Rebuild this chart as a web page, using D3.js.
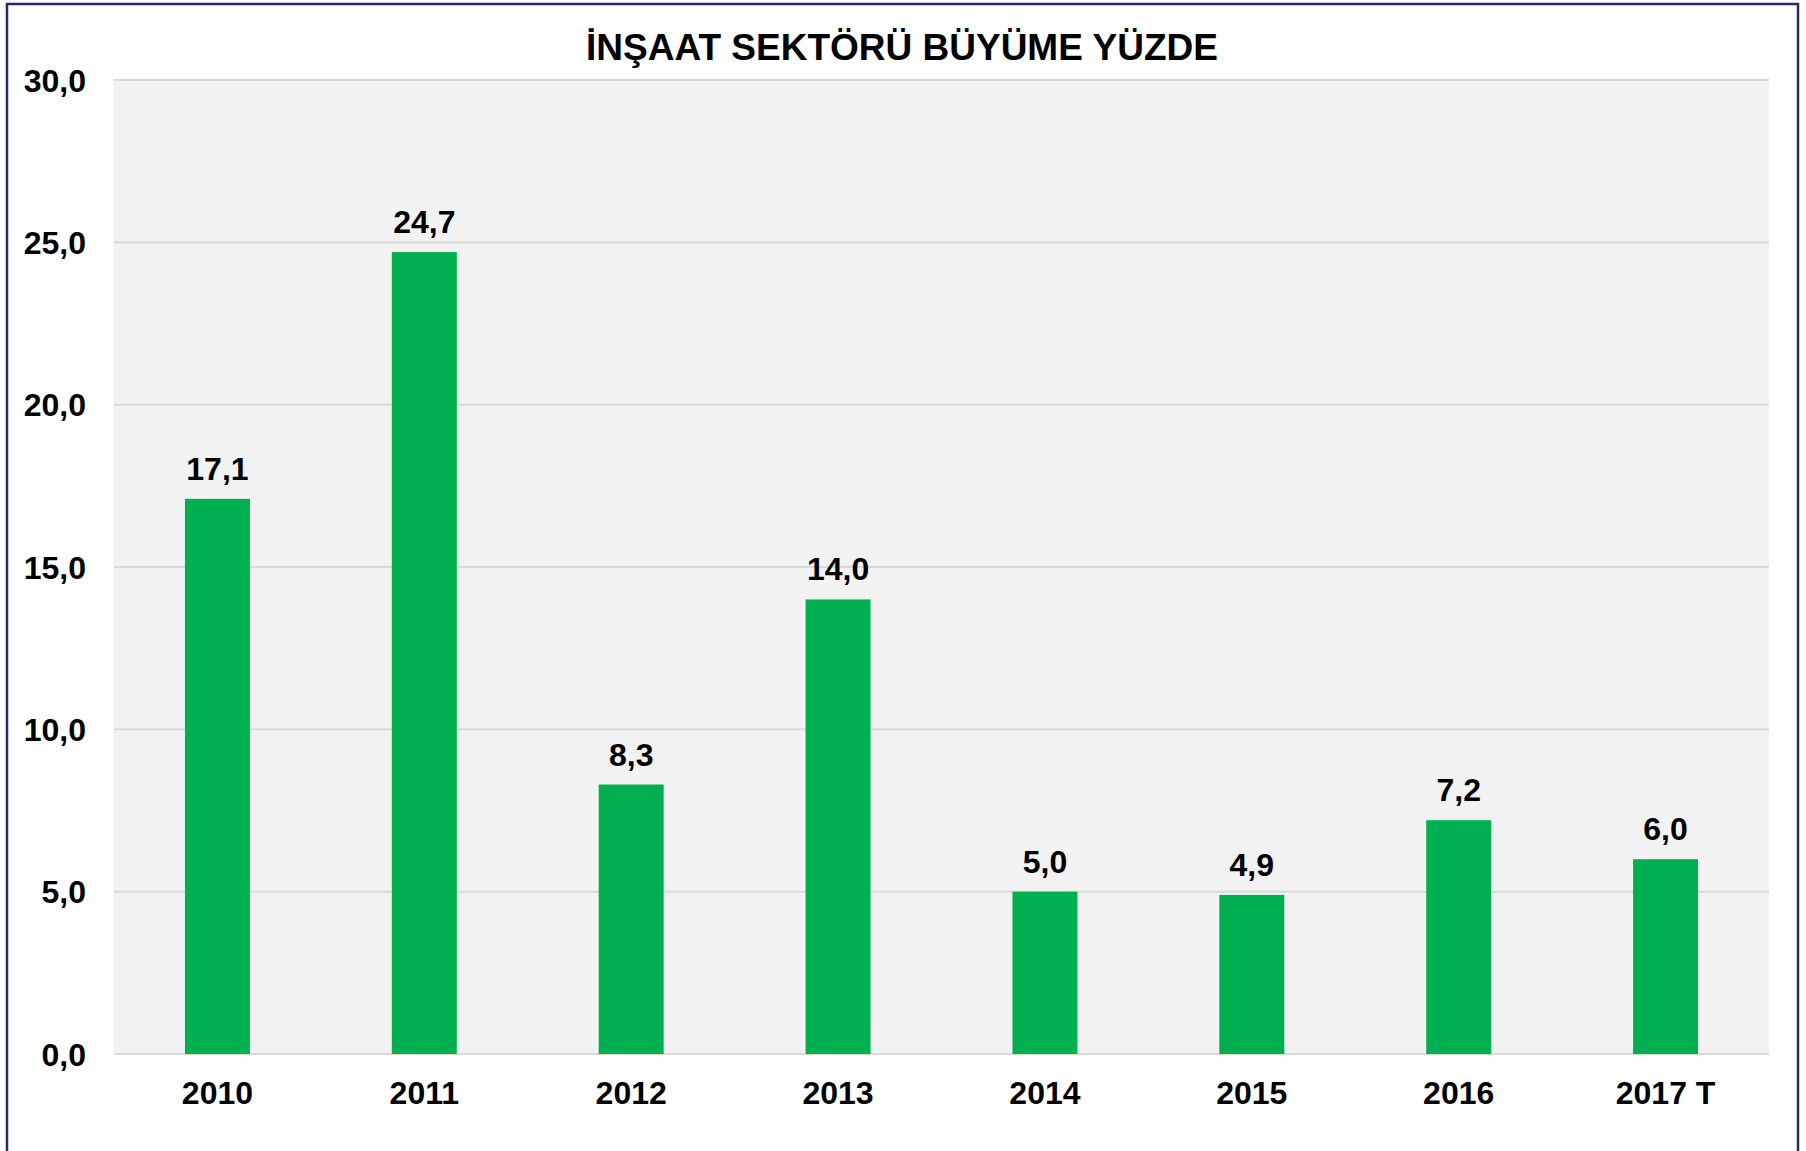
<!DOCTYPE html>
<meta charset="utf-8" />
<script src="https://d3js.org/d3.v7.min.js"></script>
<style>
  body { margin: 0; background: #fff; }
  svg text { font-family: "Liberation Sans", Arial, sans-serif; font-weight: bold; fill: #000; }
</style>
<div id="chart"></div>
<script>
  // data
  const years = ["2010", "2011", "2012", "2013", "2014", "2015", "2016", "2017 T"];
  const growth = [17.1, 24.7, 8.3, 14.0, 5.0, 4.9, 7.2, 6.0];
  const yTicks = [0, 5, 10, 15, 20, 25, 30];

  const W = 1806, H = 1151;
  const margin = { top: 80, right: 37, bottom: 97, left: 114 },
    width = W - margin.left - margin.right,
    height = H - margin.top - margin.bottom;

  const fmt = v => d3.format(".1f")(v).replace(".", ",");

  const root = d3.select("#chart").append("svg")
    .attr("width", W)
    .attr("height", H);

  // outer frame (bottom edge runs off the page)
  root.append("rect")
    .attr("x", 7).attr("y", 4)
    .attr("width", 1791).attr("height", 1200)
    .attr("fill", "none")
    .attr("stroke", "#262a6b")
    .attr("stroke-width", 2.5);

  root.append("text")
    .attr("x", 902).attr("y", 60)
    .attr("text-anchor", "middle")
    .style("font-size", "37px")
    .text("İNŞAAT SEKTÖRÜ BÜYÜME YÜZDE");

  const svg = root.append("g")
    .attr("transform", `translate(${margin.left}, ${margin.top})`);

  const x = d3.scaleBand().domain(years).range([0, width]).paddingInner(0.686).paddingOuter(0.343);
  const y = d3.scaleLinear().domain([0, 30]).range([height, 0]);

  // plot background
  svg.append("rect")
    .attr("width", width).attr("height", height)
    .attr("fill", "#f2f2f2");

  // gridlines
  svg.append("g")
    .selectAll("line")
    .data(yTicks)
    .join("line")
    .attr("x1", 0).attr("x2", width)
    .attr("y1", d => y(d)).attr("y2", d => y(d))
    .attr("stroke", "#d9d9d9")
    .attr("stroke-width", 2);

  // y axis
  const yAxis = svg.append("g")
    .call(d3.axisLeft(y).tickValues(yTicks).tickFormat(fmt).tickSize(0).tickPadding(28));
  yAxis.select(".domain").remove();
  yAxis.selectAll("text").style("font-size", "32px").attr("dy", "0.35em");

  // x axis
  const xAxis = svg.append("g")
    .attr("transform", `translate(0, ${height})`)
    .call(d3.axisBottom(x).tickSize(0).tickPadding(27));
  xAxis.select(".domain").remove();
  xAxis.selectAll("text").style("font-size", "32px").attr("dy", "0.71em");

  // bars
  svg.selectAll(".bar")
    .data(years)
    .join("rect")
    .attr("class", "bar")
    .attr("x", d => x(d))
    .attr("y", (d, i) => y(growth[i]))
    .attr("width", x.bandwidth())
    .attr("height", (d, i) => height - y(growth[i]))
    .attr("fill", "#00b050");

  // value labels
  svg.selectAll(".lbl")
    .data(years)
    .join("text")
    .attr("class", "lbl")
    .attr("x", d => x(d) + x.bandwidth() / 2)
    .attr("y", (d, i) => y(growth[i]) - 19)
    .attr("text-anchor", "middle")
    .style("font-size", "32px")
    .text((d, i) => fmt(growth[i]));
</script>
